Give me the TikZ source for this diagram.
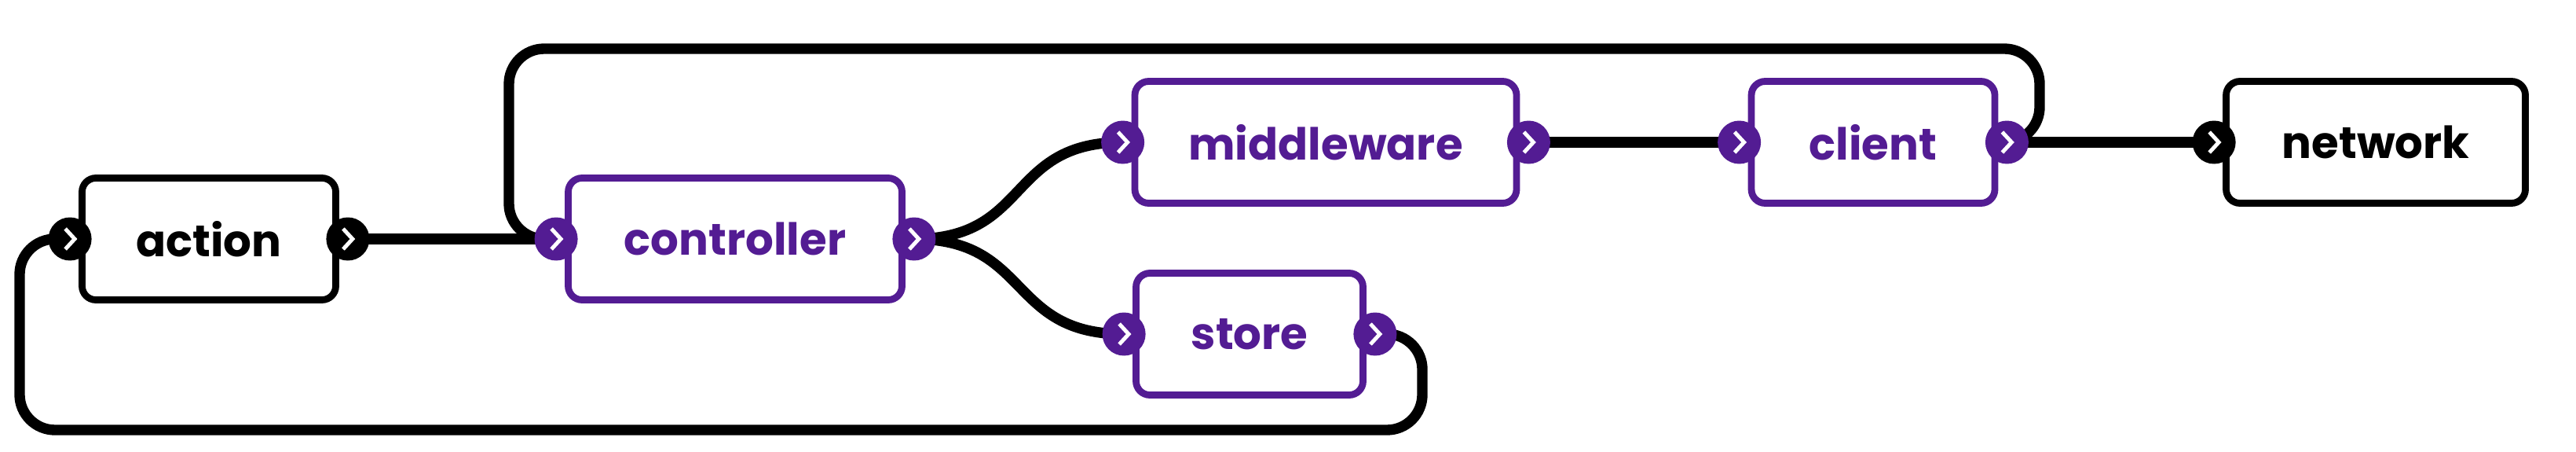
\documentclass[tikz,border=0pt]{standalone}
\usepackage{fontspec}
\setmainfont{Poppins}
\usetikzlibrary{positioning,backgrounds}
\definecolor{purp}{HTML}{531C93}

\begin{document}
\begin{tikzpicture}[
        b/.style={draw=#1, text=#1, fill=white, line width=2.5pt, rounded corners=5pt, inner sep=0pt,
          minimum height=1.55cm, font=\fontsize{16}{19}\selectfont\bfseries},
        b/.default=black,
        port/.style={circle, fill=#1, minimum size=0.55cm, inner sep=0pt,
          path picture={\draw[white, line width=1.4pt, line join=miter]
            ([shift={(-0.06,0.13)}]path picture bounding box.center) --
            ([shift={(0.06,0)}]path picture bounding box.center) --
            ([shift={(-0.06,-0.13)}]path picture bounding box.center);}},
        port/.default=black,
        wire/.style={line width=3.8pt, rounded corners=0.45cm}]
      \useasboundingbox (0,0) rectangle (32.8,5.74);
      \node[b, minimum width=3.23cm] (action) at (2.66,2.70) {action};
      \node[b=purp, minimum width=4.25cm] (controller) at (9.36,2.70) {controller};
      \node[b=purp, minimum width=4.86cm] (middleware) at (16.88,3.93) {middleware};
      \node[b=purp, minimum width=2.89cm] (store) at (15.91,1.49) {store};
      \node[b=purp, minimum width=3.10cm] (client) at (23.85,3.93) {client};
      \node[b, minimum width=3.81cm] (network) at (30.25,3.93) {network};
      % ports
      \node[port] (a-in) at ([xshift=-0.11cm]action.west) {};
      \node[port] (a-out) at ([xshift=0.11cm]action.east) {};
      \node[port=purp] (c-in) at ([xshift=-0.11cm]controller.west) {};
      \node[port=purp] (c-out) at ([xshift=0.11cm]controller.east) {};
      \node[port=purp] (m-in) at ([xshift=-0.11cm]middleware.west) {};
      \node[port=purp] (m-out) at ([xshift=0.11cm]middleware.east) {};
      \node[port=purp] (s-in) at ([xshift=-0.11cm]store.west) {};
      \node[port=purp] (s-out) at ([xshift=0.11cm]store.east) {};
      \node[port=purp] (cl-in) at ([xshift=-0.11cm]client.west) {};
      \node[port=purp] (cl-out) at ([xshift=0.11cm]client.east) {};
      \node[port] (n-in) at ([xshift=-0.11cm]network.west) {};
      % wires
      \begin{scope}[on background layer]
        \draw[wire] (a-out.center) -- (c-in.center);
        \draw[wire] (c-out.center) to[out=0, in=180, looseness=1.3] (m-in.center);
        \draw[wire] (c-out.center) to[out=0, in=180, looseness=1.3] (s-in.center);
        \draw[wire] (m-out.center) -- (cl-in.center);
        \draw[wire] (cl-out.center) -- (n-in.center);
        \draw[wire] (cl-out.center) -| (25.97,5.12) -| (6.48,2.70) -- (c-in.center);
        \draw[wire] (s-out.center) -| (18.11,0.27) -| (0.25,2.70) -- (a-in.center);
      \end{scope}
      \end{tikzpicture}
\end{document}
